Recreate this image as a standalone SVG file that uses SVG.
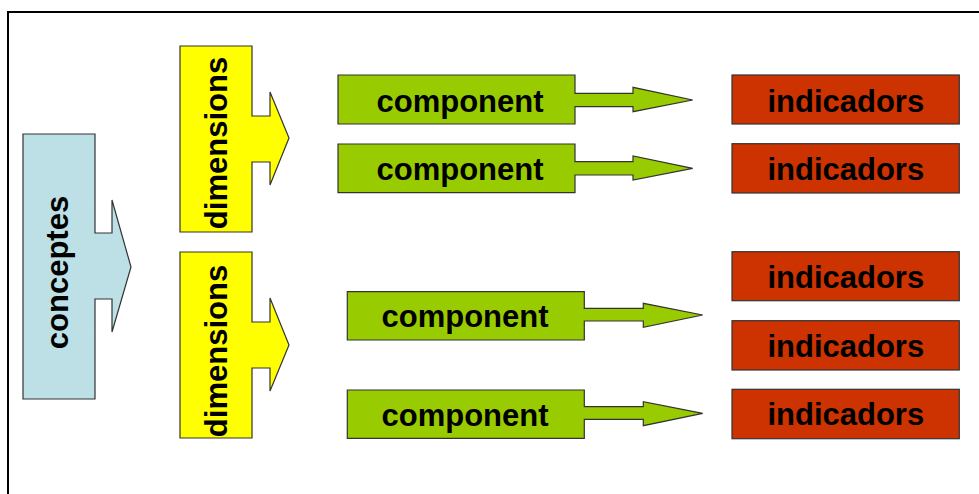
<svg xmlns="http://www.w3.org/2000/svg" width="979" height="494" viewBox="0 0 979 494">
<style>
.lbl{font-family:"Liberation Sans",Arial,sans-serif;font-weight:bold;font-size:31px;fill:#000;text-anchor:middle}
.sh{stroke:#333;stroke-width:1.2}
.con{fill:#BCE0E5}
.dim{fill:#FFFF00}
.cmp{fill:#99CC00}
.ind{fill:#CC3300}
</style>
<rect x="0" y="0" width="979" height="494" fill="#fff"/>
<rect x="8" y="12" width="990" height="500" fill="none" stroke="#000" stroke-width="2"/>
<g id="concepts">
<path class="sh con" d="M23,134 H95 V233 H112 V200 L131,267 L112,332 V299 H95 V399 H23 Z"/>
<text class="lbl" transform="translate(68,272.5) rotate(-90)">conceptes</text>
</g>
<g id="dimensions1">
<path class="sh dim" d="M180,46 H252 V116 H270 V92 L289,138 L270,185 V162 H252 V232 H180 Z"/>
<text class="lbl" transform="translate(227,143) rotate(-90)">dimensions</text>
</g>
<g id="dimensions2">
<path class="sh dim" d="M180,252 H252 V322 H270 V298 L289,345 L270,391 V368 H252 V438 H180 Z"/>
<text class="lbl" transform="translate(227,351) rotate(-90)">dimensions</text>
</g>
<g id="component1">
<path class="sh cmp" d="M338,75 H575 V93.3 H633 V87.3 L692.7,100 L633,111.7 V106.7 H575 V124 H338 Z"/>
<text class="lbl" x="460" y="111.5">component</text>
</g>
<g id="component2">
<path class="sh cmp" d="M338,144 H575 V161.7 H633 V156 L692.7,168.3 L633,180 V175 H575 V192.7 H338 Z"/>
<text class="lbl" x="460" y="179.5">component</text>
</g>
<g id="component3">
<path class="sh cmp" d="M347.3,291.7 H584.3 V308.3 H643.3 V303.3 L702.7,315 L643.3,327.3 V321 H584.3 V340 H347.3 Z"/>
<text class="lbl" x="465" y="326.5">component</text>
</g>
<g id="component4">
<path class="sh cmp" d="M347.3,390 H584.3 V406.7 H643.3 V401.7 L702.7,413.3 L643.3,425.7 V419.3 H584.3 V438.3 H347.3 Z"/>
<text class="lbl" x="465" y="425.5">component</text>
</g>
<g id="indicadors1">
<rect class="sh ind" x="732" y="75" width="227.3" height="49"/>
<text class="lbl" x="845.8" y="111.5">indicadors</text>
</g>
<g id="indicadors2">
<rect class="sh ind" x="732" y="143.7" width="227.3" height="49.3"/>
<text class="lbl" x="845.8" y="180">indicadors</text>
</g>
<g id="indicadors3">
<rect class="sh ind" x="732" y="251.7" width="227.3" height="49"/>
<text class="lbl" x="845.8" y="288.3">indicadors</text>
</g>
<g id="indicadors4">
<rect class="sh ind" x="732" y="320.7" width="227.3" height="49.3"/>
<text class="lbl" x="845.8" y="356.7">indicadors</text>
</g>
<g id="indicadors5">
<rect class="sh ind" x="732" y="389.3" width="227.3" height="49.4"/>
<text class="lbl" x="845.8" y="425">indicadors</text>
</g>
<g id="connectors"></g>
</svg>
